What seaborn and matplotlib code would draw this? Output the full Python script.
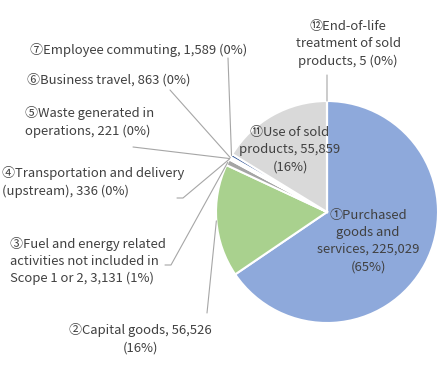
import matplotlib
matplotlib.use("Agg")
import matplotlib.pyplot as plt
import seaborn as sns
import numpy as np

# categories (scope 3), clockwise from 12 o'clock
labels = [
    "①Purchased\ngoods and\nservices, 225,029\n(65%)",
    "②Capital goods, 56,526\n(16%)",
    "③Fuel and energy related\nactivities not included in\nScope 1 or 2, 3,131 (1%)",
    "④Transportation and delivery\n(upstream), 336 (0%)",
    "⑤Waste generated in\noperations, 221 (0%)",
    "⑥Business travel, 863 (0%)",
    "⑦Employee commuting, 1,589 (0%)",
    "⑪Use of sold\nproducts, 55,859\n(16%)",
    "⑫End-of-life\ntreatment of sold\nproducts, 5 (0%)",
]
values = [225029, 56526, 3131, 336, 221, 863, 1589, 55859, 5]
colors = ["#8EA9DB", "#A9D18E", "#A5A5A5", "#C9C9C9", "#DBDBDB",
          "#BFBFBF", "#2F5597", "#D9D9D9", "#BDD7EE"]

sns.set_style("white")
plt.rcParams["font.family"] = ["Noto Sans CJK JP", "DejaVu Sans"]

W, H = 438, 370
fig = plt.figure(figsize=(W / 100, H / 100), dpi=100)
ax = fig.add_axes([0, 0, 1, 1])

cx, cy, r = 327, H - 212, 111
wedges, _ = ax.pie(values, colors=colors, startangle=90, counterclock=False,
                   radius=r, center=(cx, cy), frame=True,
                   wedgeprops=dict(edgecolor="white", linewidth=1.5))
ax.set_xlim(0, W)
ax.set_ylim(0, H)
ax.set_aspect("equal")
ax.axis("off")


def edge_point(w, frac=1.0):
    ang = np.deg2rad((w.theta1 + w.theta2) / 2)
    return cx + frac * r * np.cos(ang), cy + frac * r * np.sin(ang)


txt = dict(fontsize=9.4, color="#404040", linespacing=1.42)
line = dict(color="#A6A6A6", lw=0.8)

# label layout: (text x, text y from top, ha, leader path from label side)
layout = [
    (368, 241, "center", None),
    (140, 339, "center", [(207, 313)]),
    (10, 261, "left", [(165, 265), (171, 265)]),
    (2, 182, "left", [(177, 198), (183, 198)]),
    (25, 122, "left", [(133, 147)]),
    (27, 80, "left", [(170, 90)]),
    (30, 50, "left", [(228, 58)]),
    (290, 150, "center", None),
    (348, 44, "center", [(327, 75)]),
]

for w, lab, (tx, ty, ha, path) in zip(wedges, labels, layout):
    ax.text(tx, H - ty, lab, ha=ha, va="center",
            multialignment="center" if ha == "center" else "left", **txt)
    if path:
        ex, ey = edge_point(w)
        xs = [p[0] for p in path] + [ex]
        ys = [H - p[1] for p in path] + [ey]
        ax.plot(xs, ys, **line)

fig.savefig("out.png", dpi=100)
